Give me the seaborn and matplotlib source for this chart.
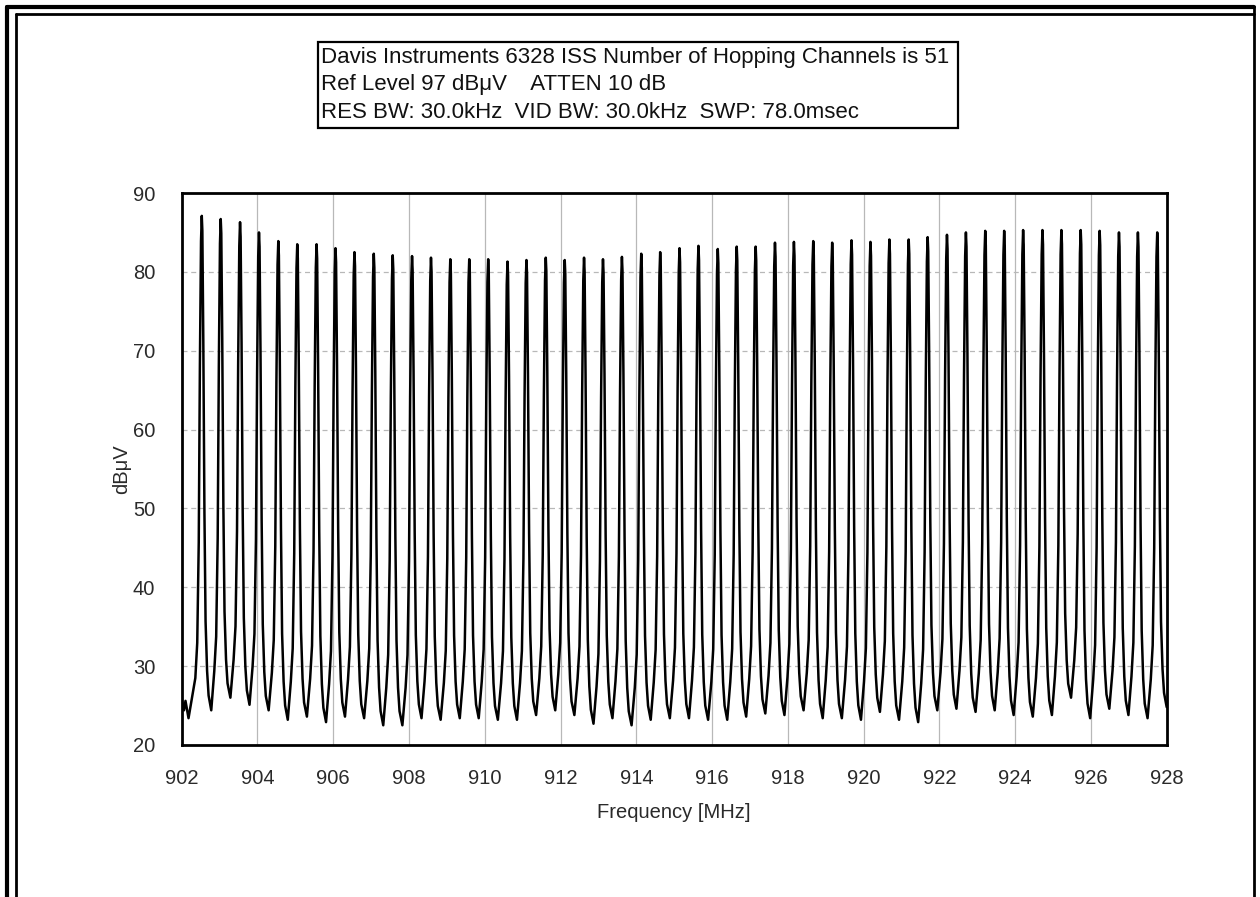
import numpy as np
import pandas as pd
import matplotlib
matplotlib.use("Agg")
import matplotlib.pyplot as plt
from matplotlib.lines import Line2D
from matplotlib.patches import Rectangle
import seaborn as sns

# ---- data ----
channel_mhz = [902.53, 903.03, 903.54, 904.04, 904.55, 905.05, 905.56, 906.06, 906.56, 907.07,
               907.57, 908.08, 908.58, 909.09, 909.59, 910.09, 910.60, 911.10, 911.61, 912.11,
               912.62, 913.12, 913.62, 914.13, 914.63, 915.14, 915.64, 916.15, 916.65, 917.15,
               917.66, 918.16, 918.67, 919.17, 919.68, 920.18, 920.68, 921.19, 921.69, 922.20,
               922.70, 923.21, 923.71, 924.21, 924.72, 925.22, 925.73, 926.23, 926.74, 927.24,
               927.75]
peak_dbuv = [87.1, 86.7, 86.3, 85.0, 83.9, 83.5, 83.5, 83.0, 82.5, 82.3,
             82.1, 82.0, 81.8, 81.6, 81.6, 81.6, 81.3, 81.5, 81.8, 81.5,
             81.8, 81.6, 81.9, 82.3, 82.5, 83.0, 83.3, 82.9, 83.2, 83.2,
             83.7, 83.8, 83.9, 83.7, 84.0, 83.8, 84.1, 84.1, 84.4, 84.7,
             85.0, 85.2, 85.2, 85.3, 85.3, 85.3, 85.3, 85.2, 85.0, 85.0,
             85.0]
trough_dbuv = [24.4, 26.0, 25.1, 24.4, 23.2, 23.6, 22.9, 23.6, 23.4, 22.5,
               22.5, 23.4, 23.2, 23.4, 23.4, 23.2, 23.2, 23.8, 24.4, 23.8,
               22.7, 23.4, 22.5, 23.2, 23.4, 23.4, 23.2, 23.2, 23.6, 24.0,
               23.8, 24.4, 23.4, 23.4, 23.2, 24.2, 23.2, 22.9, 24.4, 24.6,
               24.2, 24.4, 23.8, 23.6, 23.8, 26.0, 23.4, 24.6, 23.8, 23.4]
start_mhz = [902.00, 902.06, 902.10, 902.18]
start_dbuv = [25.8, 24.4, 25.6, 23.4]
end_mhz = [928.00]
end_dbuv = [24.8]

# measured single-channel response (offset MHz, fraction of rise above floor)
left_off = [-0.17, -0.12, -0.08, -0.05, -0.02]
left_frac = [0.08, 0.15, 0.35, 0.70, 0.95]
right_off = [0.015, 0.04, 0.07, 0.10, 0.14, 0.18]
right_frac = [0.97, 0.75, 0.40, 0.18, 0.08, 0.03]

x_ticks = [902, 904, 906, 908, 910, 912, 914, 916, 918, 920, 922, 924, 926, 928]
y_ticks = [20, 30, 40, 50, 60, 70, 80, 90]
title_lines = ["Davis Instruments 6328 ISS Number of Hopping Channels is 51",
               "Ref Level 97 dB\u03bcV    ATTEN 10 dB",
               "RES BW: 30.0kHz  VID BW: 30.0kHz  SWP: 78.0msec"]

# ---- build trace table ----
xs, ys = list(start_mhz), list(start_dbuv)
n = len(channel_mhz)
for i in range(n):
    f, p = channel_mhz[i], peak_dbuv[i]
    lf = trough_dbuv[i - 1] if i > 0 else start_dbuv[-1]
    rf = trough_dbuv[i] if i < n - 1 else end_dbuv[0]
    for o, fr in zip(left_off, left_frac):
        xs.append(f + o); ys.append(lf + fr * (p - lf))
    xs.append(f); ys.append(p)
    for o, fr in zip(right_off, right_frac):
        xs.append(f + o); ys.append(rf + fr * (p - rf))
    if i < n - 1:
        xs.append((f + channel_mhz[i + 1]) / 2); ys.append(trough_dbuv[i])
xs += end_mhz; ys += end_dbuv
df = pd.DataFrame({"Frequency [MHz]": xs, "dB\u03bcV": ys})

# ---- plot ----
sns.set_style("white")
plt.rcParams["font.family"] = ["Liberation Sans", "DejaVu Sans"]

W, H = 1260, 897
fig = plt.figure(figsize=(W / 100, H / 100), dpi=100)
fig.patch.set_facecolor("white")
ax = fig.add_axes([181.7 / W, 1 - 745 / H, (1166.7 - 181.7) / W, (745 - 193) / H])

sns.lineplot(data=df, x="Frequency [MHz]", y="dB\u03bcV", ax=ax, color="black",
             linewidth=1.8, sort=False, estimator=None, zorder=3)

ax.set_xlim(902, 928)
ax.set_ylim(20, 90)
ax.set_xticks(x_ticks)
ax.set_xticks([t + 1 for t in x_ticks[:-1]], minor=True)
ax.set_yticks(y_ticks)
ax.set_yticks([t + 5 for t in y_ticks[:-1]], minor=True)
ax.set_xticklabels([str(t) for t in x_ticks])
ax.set_yticklabels([str(t) for t in y_ticks])
ax.tick_params(axis="both", which="both", direction="inout", color="black",
               labelsize=14.5, labelcolor="#2a2a2a")
ax.tick_params(axis="x", which="both", pad=12)
ax.tick_params(axis="y", which="both", pad=14)
ax.tick_params(axis="both", which="major", length=10, width=1.4)
ax.tick_params(axis="both", which="minor", length=10, width=1.4)
ax.set_xlabel("Frequency [MHz]", fontsize=14.5, color="#2a2a2a", labelpad=11)
ax.set_ylabel("dB\u03bcV", fontsize=14.5, color="#2a2a2a", labelpad=1)

for s in ax.spines.values():
    s.set_visible(True)
    s.set_color("black")
    s.set_linewidth(2)

for t in x_ticks[1:-1]:
    ax.axvline(t, color="#b8b8b8", lw=0.9, zorder=1)
for t in y_ticks[1:-1]:
    ax.axhline(t, color="#b8b8b8", lw=0.9, ls=(0, (4, 3)), zorder=1)

# title box
fig.add_artist(Rectangle((318 / W, 1 - 128 / H), (958 - 318) / W, (128 - 42) / H,
                         transform=fig.transFigure, fc="white", ec="black", lw=1.6))
for k, line in enumerate(title_lines):
    fig.text(321 / W, 1 - (57 + 27.5 * k) / H, line, ha="left", va="center",
             fontsize=16, color="#111111")

# outer double frame
def fline(x0, y0, x1, y1, lw):
    fig.add_artist(Line2D([x0 / W, x1 / W], [1 - y0 / H, 1 - y1 / H],
                          color="black", lw=lw, transform=fig.transFigure))
fline(7, 7, 1254, 7, 3)
fline(7, 7, 7, 897, 3)
fline(1254, 7, 1254, 897, 2)
fline(16, 14, 1254, 14, 2)
fline(16, 14, 16, 897, 2)

fig.savefig("out.png", dpi=100, facecolor="white")
